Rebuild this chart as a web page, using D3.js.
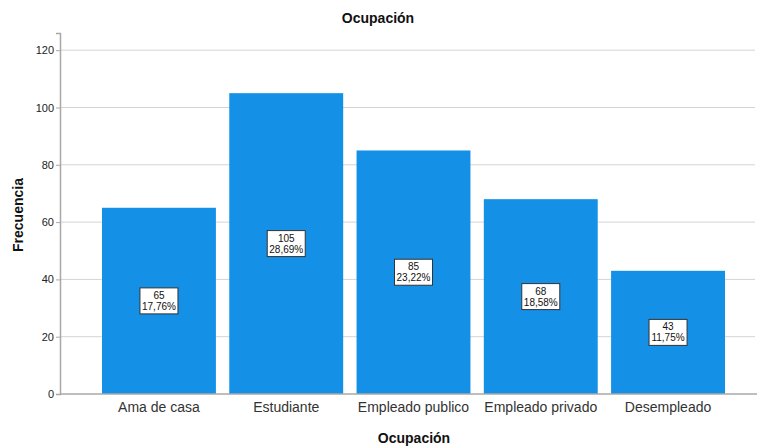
<!DOCTYPE html>
<html><head><meta charset="utf-8">
<script src="https://cdn.jsdelivr.net/npm/d3@7"></script>
<style>body{margin:0;background:#fff}svg{display:block;font-family:Arial,"Liberation Sans",sans-serif}</style>
</head><body><svg id="c" width="757" height="446"></svg>
<script>
const categories = ["Ama de casa","Estudiante","Empleado publico","Empleado privado","Desempleado"];
const counts = [65,105,85,68,43];
const percents = ["17,76%","28,69%","23,22%","18,58%","11,75%"];
const yTicks = [0,20,40,60,80,100,120];

const svg = d3.select("#c");
const x = d3.scaleBand().domain(categories).range([102,725]).paddingInner(0.105).paddingOuter(0);
const y = d3.scaleLinear().domain([0,126]).range([394,33]);
const left = 60, right = 755;

// gridlines
svg.append("g").selectAll("line").data(yTicks.filter(d=>d>0)).join("line")
  .attr("x1",left).attr("x2",right).attr("y1",d=>y(d)).attr("y2",d=>y(d))
  .attr("stroke","#d4d4d4").attr("stroke-width",1);

// bars
svg.append("g").selectAll("rect").data(counts).join("rect")
  .attr("x",(d,i)=>x(categories[i])).attr("width",x.bandwidth())
  .attr("y",d=>y(d)).attr("height",d=>y(0)-y(d))
  .attr("fill","#1490e6");

// y axis
const ya = svg.append("g").attr("transform",`translate(${left},0)`)
  .call(d3.axisLeft(y).tickValues(yTicks).tickSize(4).tickFormat(d3.format("d")));
ya.select(".domain").attr("stroke","#a8a8a8").attr("stroke-width",1.5);
ya.selectAll(".tick line").attr("stroke","#a8a8a8");
ya.selectAll(".tick text").attr("font-size",11).attr("fill","#222").attr("x",-6).attr("font-family","Arial,'Liberation Sans',sans-serif");

// x axis
const xa = svg.append("g").attr("transform",`translate(0,${y(0)})`)
  .call(d3.axisBottom(x).tickSize(0).tickPadding(8));
xa.select(".domain").remove();
svg.append("line").attr("x1",left).attr("x2",757).attr("y1",y(0)).attr("y2",y(0)).attr("stroke","#a8a8a8").attr("stroke-width",1.5);
xa.selectAll(".tick text").attr("font-size",14).attr("fill","#333").attr("font-family","Arial,'Liberation Sans',sans-serif");

// labels
const lg = svg.append("g").selectAll("g").data(counts).join("g")
  .attr("transform",(d,i)=>`translate(${x(categories[i])+x.bandwidth()/2},${(y(d)+y(0))/2})`);
lg.append("rect").attr("x",-19).attr("y",-13).attr("width",38).attr("height",26)
  .attr("fill","#fff").attr("stroke","#333").attr("stroke-width",1);
lg.append("text").attr("text-anchor","middle").attr("y",-2).attr("font-size",10).attr("fill","#111").text(d=>d);
lg.append("text").attr("text-anchor","middle").attr("y",9).attr("font-size",10).attr("fill","#111").text((d,i)=>percents[i]);

// titles
svg.append("text").attr("x",378).attr("y",23).attr("text-anchor","middle").attr("font-size",14).attr("font-weight","bold").attr("fill","#111").text("Ocupación");
svg.append("text").attr("x",414).attr("y",443).attr("text-anchor","middle").attr("font-size",14).attr("font-weight","bold").attr("fill","#111").text("Ocupación");
svg.append("text").attr("transform","translate(23,215) rotate(-90)").attr("text-anchor","middle").attr("font-size",14).attr("font-weight","bold").attr("fill","#111").text("Frecuencia");
</script></body></html>
